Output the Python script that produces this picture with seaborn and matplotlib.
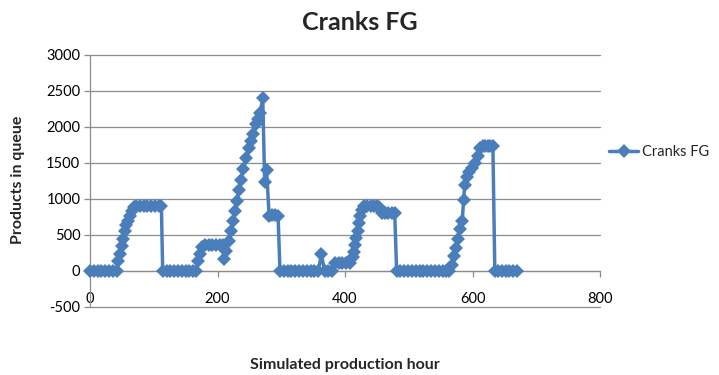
import matplotlib
matplotlib.use("Agg")
import matplotlib.pyplot as plt
import seaborn as sns
import pandas as pd

hours = [0, 6, 12, 18, 24, 30, 36, 42,
         44, 47, 50, 52, 55, 57, 60, 63, 66, 69,
         72, 78, 84, 90, 96, 102, 108, 112,
         114, 120, 126, 132, 138, 144, 150, 156, 162, 166,
         169, 172, 176,
         180, 186, 192, 198, 204, 208,
         210,
         214, 218, 221, 224, 227, 230, 234, 237, 240, 245, 249, 253, 256, 260, 264, 267, 271,
         274, 277, 281, 285, 290, 295,
         298, 304, 310, 316, 322, 328, 334, 340, 346, 352, 358,
         363,
         368, 374, 380,
         385, 390, 396, 402, 408,
         412, 414, 416, 418, 420, 422, 424, 427, 430,
         435, 440, 445, 450, 454,
         458, 463, 468, 473, 478,
         481, 487, 493, 499, 505, 511, 517, 523, 529, 535, 541, 547, 553, 559, 563,
         568, 571, 574, 577, 581, 584, 586, 588, 591, 594, 599, 604, 608, 612,
         616, 620, 624, 628, 632,
         635, 640, 646, 652, 658, 664, 670]

queue = [0, 0, 0, 0, 0, 0, 0, 0,
         140, 230, 350, 450, 560, 640, 700, 760, 840, 890,
         900, 900, 900, 900, 900, 900, 900, 900,
         0, 0, 0, 0, 0, 0, 0, 0, 0, 0,
         140, 240, 330,
         360, 360, 360, 360, 360, 360,
         170,
         280, 420, 560, 700, 830, 970, 1130, 1270, 1410, 1570, 1710, 1800, 1900, 2040, 2110, 2200, 2400,
         1230, 1400, 770, 780, 780, 770,
         0, 0, 0, 0, 0, 0, 0, 0, 0, 0, 0,
         230,
         0, 0, 0,
         110, 110, 110, 110, 110,
         190, 270, 360, 460, 550, 660, 760, 850, 900,
         900, 900, 900, 900, 890,
         800, 800, 800, 800, 800,
         0, 0, 0, 0, 0, 0, 0, 0, 0, 0, 0, 0, 0, 0, 0,
         90, 210, 320, 440, 580, 700, 990, 1200, 1300, 1370, 1430, 1500, 1600, 1710,
         1730, 1730, 1730, 1730, 1730,
         0, 0, 0, 0, 0, 0, 0]

x_ticks = [0, 200, 400, 600, 800]
y_ticks = [-500, 0, 500, 1000, 1500, 2000, 2500, 3000]
series_name = "Cranks FG"
title = "Cranks FG"
x_label = "Simulated production hour"
y_label = "Products in queue"

df = pd.DataFrame({"hour": hours, "queue": queue, "series": series_name})

sns.set_theme(style="white")
plt.rcParams["font.family"] = ["Lato", "DejaVu Sans"]

fig = plt.figure(figsize=(7.19, 3.75), dpi=100)
ax = fig.add_axes([90 / 719, 1 - 307 / 375, 510 / 719, (307 - 55) / 375])

blue = "#4A7EBB"
sns.lineplot(data=df, x="hour", y="queue", hue="series", palette=[blue],
             sort=False, estimator=None, marker="D", markersize=7,
             markeredgewidth=0, linewidth=2.5, ax=ax, clip_on=False, zorder=5)

ax.set_xlim(0, 800)
ax.set_ylim(-500, 3000)
ax.set_xticks(x_ticks)
ax.set_yticks(y_ticks)
ax.set_xticklabels([str(t) for t in x_ticks])
ax.set_yticklabels([str(t) for t in y_ticks])

for yv in y_ticks:
    ax.axhline(yv, color="#8c8c8c", linewidth=0.9, zorder=1, clip_on=False)

for side in ["top", "right"]:
    ax.spines[side].set_visible(False)
ax.spines["left"].set_color("#8c8c8c")
ax.spines["left"].set_linewidth(0.9)
ax.spines["bottom"].set_position(("data", 0))
ax.spines["bottom"].set_color("#8c8c8c")
ax.spines["bottom"].set_linewidth(0.9)

ax.tick_params(axis="y", direction="out", length=4, width=0.9, color="#8c8c8c",
               labelsize=10.5, labelcolor="#000000", pad=3, left=True)
ax.tick_params(axis="x", direction="out", length=4, width=0.9, color="#8c8c8c",
               labelsize=10.5, labelcolor="#000000", pad=11, bottom=True)

ax.set_xlabel("")
ax.set_ylabel("")
fig.text(345 / 719, 1 - 365 / 375, x_label, ha="center", va="center",
         fontsize=11.5, fontweight="bold")
fig.text(18 / 719, 1 - 180 / 375, y_label, ha="center", va="center",
         rotation=90, fontsize=11.5, fontweight="bold")
fig.text(360 / 719, 1 - 22 / 375, title, ha="center", va="center",
         fontsize=18, fontweight="bold")

leg = ax.legend(loc="center left", bbox_to_anchor=(609 / 719, 1 - 152 / 375),
                bbox_transform=fig.transFigure, frameon=False, fontsize=10.5,
                handlelength=2.0, handletextpad=0.25, borderaxespad=0,
                borderpad=0)

fig.savefig("out.png", dpi=100)
